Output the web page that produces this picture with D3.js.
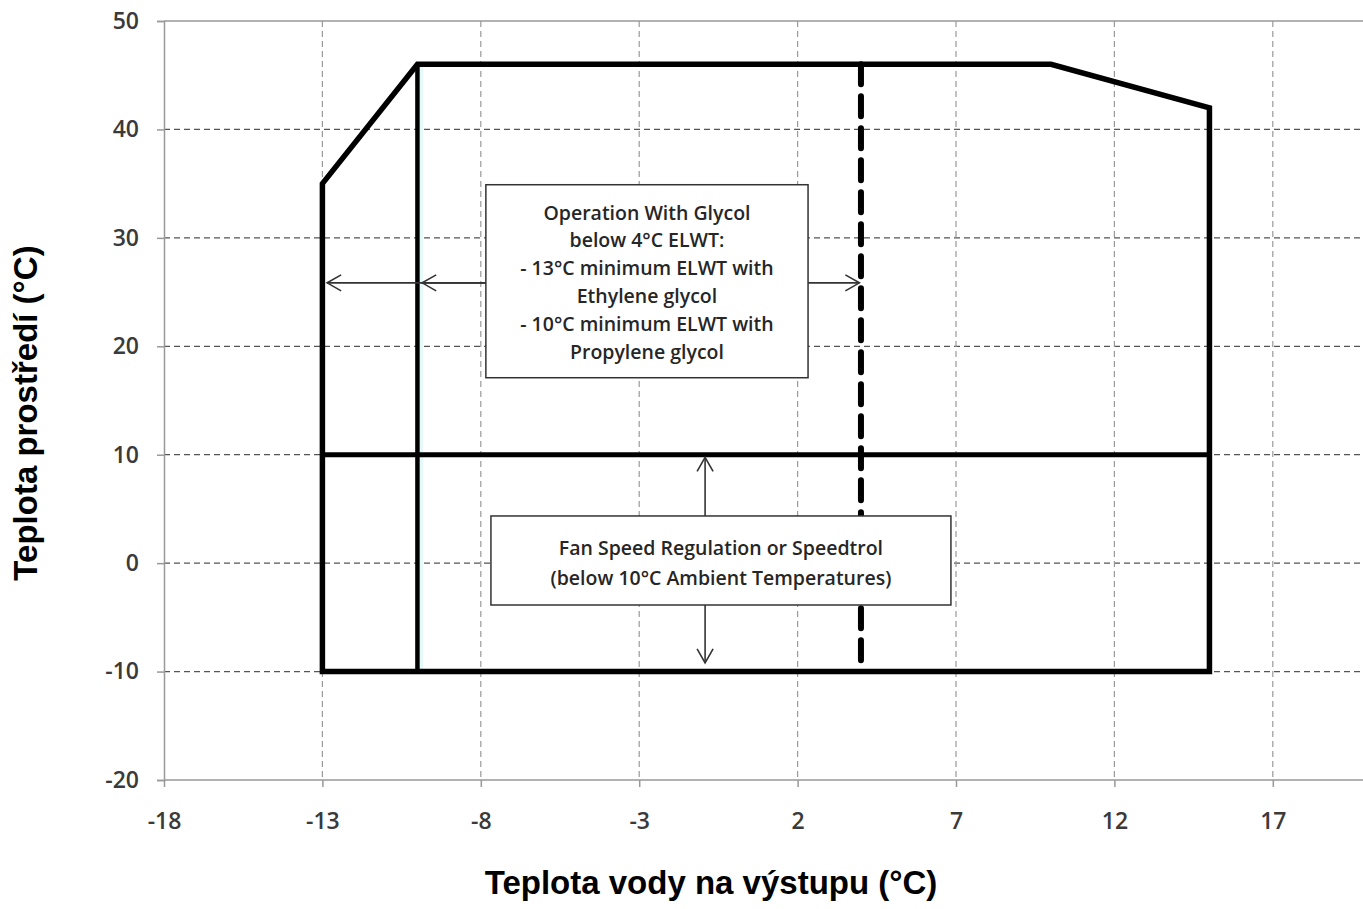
<!DOCTYPE html>
<meta charset="utf-8">
<head>
    <title>Operating envelope</title>
</head>
<style>
  body { margin: 0; background: #fff; }
  .tick text { font: 600 23px "Open Sans"; fill: #3a3a3a; }
  .axis-title { font: bold 33px "Liberation Sans"; fill: #000; }
  .note { font: 600 19.5px "Open Sans"; fill: #262626; }
</style>
<body>
<script src="https://cdn.jsdelivr.net/npm/d3@7"></script>
<script>
// data
var xTicks = [-18, -13, -8, -3, 2, 7, 12, 17],
    yTicks = [-20, -10, 0, 10, 20, 30, 40, 50];

var envelopeX = [-13, -13, -10, 10, 15, 15],
    envelopeY = [-10, 35, 46, 46, 42, -10];

var glycolLineX = [-10, -10], glycolLineY = [-10, 46];   // glycol limit
var fanLineX = [-13, 15],    fanLineY = [10, 10];        // fan speed limit
var elwtLineX = [4, 4],      elwtLineY = [46, -10];      // 4°C ELWT

var glycolText = ["Operation With Glycol", "below 4°C ELWT:", "- 13°C minimum ELWT with",
                  "Ethylene glycol", "- 10°C minimum ELWT with", "Propylene glycol"];
var fanText = ["Fan Speed Regulation or Speedtrol", "(below 10°C Ambient Temperatures)"];

var W = 1363, H = 909;
var x0 = 164, unitX = 158.4 / 5;

var x = d3.scaleLinear().domain([-18, 20]).range([x0, x0 + 38 * unitX]);
var y = d3.scaleLinear().domain([-20, 50]).range([780, 21]);

var svg = d3.select("body").append("svg")
    .attr("width", W)
    .attr("height", H);

var defs = svg.append("defs");
defs.append("marker")
    .attr("id", "arr")
    .attr("viewBox", "0 0 20 20")
    .attr("refX", 18).attr("refY", 10)
    .attr("markerWidth", 20).attr("markerHeight", 20)
    .attr("markerUnits", "userSpaceOnUse")
    .attr("orient", "auto")
  .append("path")
    .attr("d", "M4,2 L18,10 L4,18")
    .attr("fill", "none")
    .attr("stroke", "#333")
    .attr("stroke-width", 1.6);

// grid
svg.append("g").selectAll("line")
    .data(yTicks.filter(function(d) { return d > -20 && d < 50; }))
  .enter().append("line")
    .attr("x1", x0).attr("x2", W)
    .attr("y1", function(d) { return y(d); })
    .attr("y2", function(d) { return y(d); })
    .attr("stroke", "#555")
    .attr("stroke-width", 1.2)
    .attr("stroke-dasharray", "6,4");

svg.append("g").selectAll("line")
    .data(xTicks.filter(function(d) { return d > -18; }))
  .enter().append("line")
    .attr("x1", function(d) { return x(d); })
    .attr("x2", function(d) { return x(d); })
    .attr("y1", y(50)).attr("y2", y(-20))
    .attr("stroke", "#999")
    .attr("stroke-width", 1.2)
    .attr("stroke-dasharray", "6,4");

// top border
svg.append("line")
    .attr("x1", x0).attr("x2", W)
    .attr("y1", y(50)).attr("y2", y(50))
    .attr("stroke", "#999").attr("stroke-width", 1.5);

// axes
var xAxis = svg.append("g")
    .attr("transform", "translate(0," + y(-20) + ")")
    .call(d3.axisBottom(x).tickValues(xTicks).tickSize(7).tickPadding(26).tickFormat(String));
var yAxis = svg.append("g")
    .attr("transform", "translate(" + x0 + ",0)")
    .call(d3.axisLeft(y).tickValues(yTicks).tickSize(7).tickPadding(18).tickFormat(String));

[xAxis, yAxis].forEach(function(a) {
  a.select(".domain").attr("stroke", "#999").attr("stroke-width", 1.5);
  a.selectAll(".tick line").attr("stroke", "#999").attr("stroke-width", 1.5);
});
xAxis.select(".domain").attr("d", "M" + x0 + ",0H" + W);
yAxis.selectAll(".tick line").attr("x1", 0);

var line = d3.line()
    .x(function(d) { return x(d[0]); })
    .y(function(d) { return y(d[1]); });

// faint cyan halo on glycol line
svg.append("path")
    .datum(d3.zip(glycolLineX, glycolLineY))
    .attr("d", line)
    .attr("transform", "translate(2,0)")
    .attr("stroke", "#e4f9f9")
    .attr("stroke-width", 7)
    .attr("fill", "none");

svg.append("path")
    .datum(d3.zip(glycolLineX, glycolLineY))
    .attr("d", line)
    .attr("stroke", "#000")
    .attr("stroke-width", 4.5)
    .attr("fill", "none");

svg.append("path")
    .datum(d3.zip(fanLineX, fanLineY))
    .attr("d", line)
    .attr("stroke", "#000")
    .attr("stroke-width", 5)
    .attr("fill", "none");

svg.append("path")
    .datum(d3.zip(envelopeX, envelopeY))
    .attr("d", function(d) { return line(d) + "Z"; })
    .attr("stroke", "#000")
    .attr("stroke-width", 5.5)
    .attr("stroke-linejoin", "miter")
    .attr("fill", "none");

svg.append("path")
    .datum(d3.zip(elwtLineX, elwtLineY))
    .attr("d", line)
    .attr("stroke", "#000")
    .attr("stroke-width", 6)
    .attr("stroke-dasharray", "20,12")
    .attr("stroke-linecap", "round")
    .attr("fill", "none");

// arrows
var arrowY = 25.85;
function arrow(xa, ya, xb, yb) {
  svg.append("line")
      .attr("x1", x(xa)).attr("y1", y(ya))
      .attr("x2", x(xb)).attr("y2", y(yb))
      .attr("stroke", "#333")
      .attr("stroke-width", 1.6)
      .attr("marker-end", "url(#arr)");
}
arrow(-7.84, arrowY, -12.85, arrowY);
arrow(-7.84, arrowY, -9.85, arrowY);
arrow(2.33, arrowY, 3.95, arrowY);
arrow(-0.92, 4.35, -0.92, 9.75);
arrow(-0.92, -3.86, -0.92, -9.2);

// note boxes
function noteBox(x1, x2, y1, y2, lines, firstY, gap) {
  svg.append("rect")
      .attr("x", x(x1)).attr("y", y(y1))
      .attr("width", x(x2) - x(x1))
      .attr("height", y(y2) - y(y1))
      .attr("fill", "#fff")
      .attr("stroke", "#333")
      .attr("stroke-width", 1.5);
  svg.append("g").selectAll("text")
      .data(lines)
    .enter().append("text")
      .attr("class", "note")
      .attr("x", (x(x1) + x(x2)) / 2)
      .attr("y", function(d, i) { return firstY + i * gap; })
      .attr("text-anchor", "middle")
      .attr("dominant-baseline", "central")
      .text(function(d) { return d; });
}
noteBox(-7.84, 2.33, 34.9, 17.1, glycolText, 212, 27.8);
noteBox(-7.68, 6.84, 4.35, -3.86, fanText, 547, 30);

// axis titles
svg.append("text")
    .attr("class", "axis-title")
    .attr("x", 711).attr("y", 894)
    .attr("text-anchor", "middle")
    .text("Teplota vody na výstupu (°C)");

svg.append("text")
    .attr("class", "axis-title")
    .attr("transform", "translate(37,413) rotate(-90)")
    .attr("text-anchor", "middle")
    .text("Teplota prostředí (°C)");
</script>
</body>
